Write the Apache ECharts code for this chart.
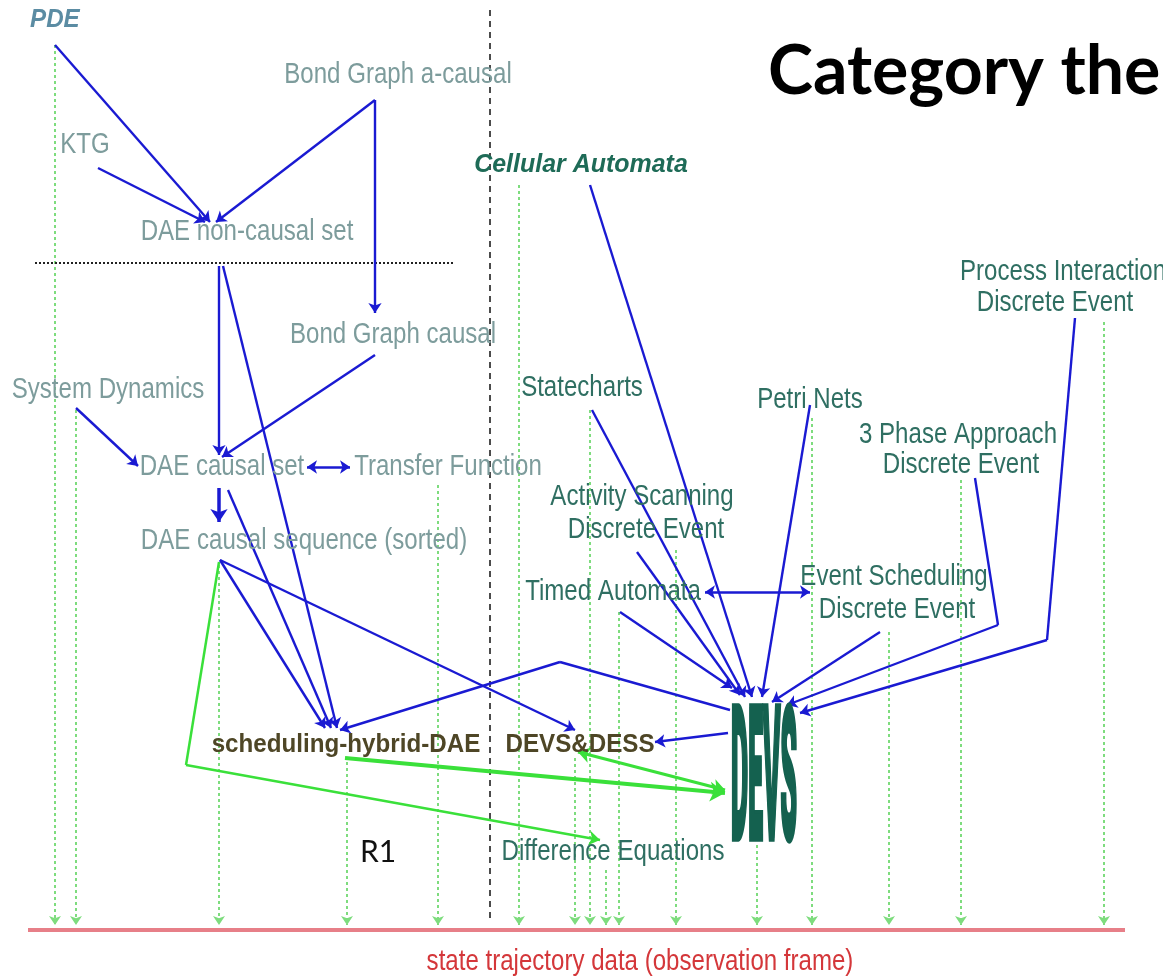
<!DOCTYPE html>
<html><head><meta charset="utf-8">
<script src="https://cdn.jsdelivr.net/npm/echarts@6/dist/echarts.min.js"></script>
<style>html,body{margin:0;padding:0;background:#fff}#c{width:1163px;height:979px}</style>
</head><body><div id="c"></div>
<script>
// ---- node labels (data space == 1163 x 979 frame) ----
const labelTexts = ['PDE','Bond Graph a-causal','KTG','DAE non-causal set','Bond Graph causal','System Dynamics',
  'DAE causal set','Transfer Function','DAE causal sequence (sorted)','Cellular Automata',
  'Process Interaction','Discrete Event','Statecharts','Petri Nets','3 Phase Approach','Discrete Event',
  'Activity Scanning','Discrete Event','Timed Automata','Event Scheduling','Discrete Event',
  'scheduling-hybrid-DAE','DEVS&DESS','Difference Equations','R1','state trajectory data (observation frame)',
  'Category the','DEVS'];
const labelX = [30,398,85,247,393,108,222,448,304,581,960,1055,582,810,958,961,642,646,613,894,897,346,580,613,378,640,768,764];
const labelY = [20,75,145,232,335,390,467,467,541,165,272,303,388,400,435,465,497,530,592,577,610,745,745,852,852,962,72,792];
const labelKind = ['pde','gray','gray','gray','gray','gray','gray','gray','gray','ca',
  'teal','teal','teal','teal','teal','teal','teal','teal','teal','teal','teal',
  'olive','olive','teal','r1','redtext','title','devs'];
const labelAlign = ['left','center','center','center','center','center','center','center','center','center',
  'left','center','center','center','center','center','center','center','center','center','center',
  'center','center','center','center','center','left','center'];

// ---- dotted green projections onto the observation frame ----
const projX   = [55, 76, 219, 347, 438, 519, 575, 590, 606, 619, 676, 757, 812, 889, 961, 1104];
const projTop = [45, 410, 565, 762, 485, 185, 758, 410, 870, 612, 550, 845, 418, 632, 480, 322];
const projBottom = 925;

// ---- blue directed relations (arrow at the end) ----
const blueArrows = [
  [[55,45],[210,222]],
  [[98,168],[205,222]],
  [[375,100],[216,222]],
  [[375,100],[375,313]],
  [[219,266],[219,455]],
  [[223,266],[337,728]],
  [[375,355],[222,457]],
  [[76,408],[138,466]],
  [[228,490],[331,728]],
  [[220,560],[325,728]],
  [[220,560],[575,730]],
  [[730,710],[560,662],[340,730]],
  [[728,733],[655,742]],
  [[590,185],[752,697]],
  [[592,410],[745,697]],
  [[637,552],[740,695]],
  [[620,612],[732,688]],
  [[810,405],[762,697]],
  [[880,632],[772,702]],
  [[975,478],[998,625],[787,705]],
  [[1075,318],[1047,640],[800,713]]
];
const blueThick = [[[219,488],[219,522]]];
const blueDouble = [[[307,467],[350,467]], [[705,592],[810,592]]];

// ---- green relations ----
const greenArrows = [[[219,562],[186,765],[600,840]]];
const greenThick = [[[345,758],[725,793]]];
const greenDouble = [[[578,752],[725,790]]];

// ---- frame lines ----
const redFrame = [[[28,930],[1125,930]]];
const dashedDivider = [[[490,10],[490,918]]];
const dottedDivider = [[[35,263],[455,263]]];

const STY = {
  gray:   {color:'#7d9c9c', size:29, weight:'normal', style:'normal', family:'Liberation Sans, Arial, sans-serif', sx:0.83, sy:1},
  teal:   {color:'#2f6f62', size:29, weight:'normal', style:'normal', family:'Liberation Sans, Arial, sans-serif', sx:0.83, sy:1},
  olive:  {color:'#4e4626', size:26, weight:'bold', style:'normal', family:'Liberation Sans, Arial, sans-serif', sx:0.93, sy:1},
  pde:    {color:'#5b8ca3', size:26, weight:'bold', style:'italic', family:'Liberation Sans, Arial, sans-serif', sx:0.93, sy:1},
  ca:     {color:'#1e6b57', size:26, weight:'bold', style:'italic', family:'Liberation Sans, Arial, sans-serif', sx:0.96, sy:1},
  r1:     {color:'#111111', size:30, weight:'normal', style:'normal', family:'Lato, Open Sans, sans-serif', sx:1, sy:1},
  redtext:{color:'#d4373a', size:29, weight:'normal', style:'normal', family:'Liberation Sans, Arial, sans-serif', sx:0.83, sy:1},
  title:  {color:'#000000', size:68, weight:'bold', style:'normal', family:'Lato, Open Sans, sans-serif', sx:1, sy:1},
  devs:   {color:'#14614f', size:40, weight:'900', style:'normal', family:'Roboto, Liberation Sans, sans-serif', sx:0.66, sy:4.6, stroke:1.6}
};

// split paths: all segments but the last carry no head, the last carries the head(s)
function bodySegs(list){ const out=[]; list.forEach(p => { for(let k=0;k<p.length-2;k++) out.push({coords:[p[k],p[k+1]]}); }); return out; }
function headSegs(list){ return list.map(p => ({coords:[p[p.length-2], p[p.length-1]]})); }
function seg(data, color, width, type, symbol, symSize, z){
  return {type:'lines', coordinateSystem:'cartesian2d', polyline:false, z:z,
    data: data, symbol: symbol, symbolSize: symSize,
    lineStyle:{color:color, width:width, type:type, opacity:1, curveness:0}, silent:true, animation:false};
}
function arrowSeries(list, color, width, symbol, symSize, z){
  return [seg(bodySegs(list), color, width, 'solid', ['none','none'], 1, z),
          seg(headSegs(list), color, width, 'solid', symbol, symSize, z)];
}

const projList = projX.map((x,i) => ({coords:[[x, projTop[i]], [x, projBottom]]}));

const chart = echarts.init(document.getElementById('c'), null, {renderer:'canvas'});
chart.setOption({
  backgroundColor:'#ffffff',
  animation:false,
  grid:{left:0,right:0,top:0,bottom:0},
  xAxis:{type:'value', min:0, max:1163, show:false},
  yAxis:{type:'value', min:0, max:979, inverse:true, show:false},
  series:[].concat(
    [seg(projList, '#7edc7e', 2, [3,3], ['none','arrow'], 9, 1),
     seg(headSegs(redFrame), '#e77f88', 4, 'solid', ['none','none'], 1, 2),
     seg(headSegs(dashedDivider), '#111111', 1.5, [6,5], ['none','none'], 1, 2),
     seg(headSegs(dottedDivider), '#222222', 2, [2,2], ['none','none'], 1, 2)],
    arrowSeries(greenArrows, '#3ae03a', 2.5, ['none','arrow'], 11, 3),
    arrowSeries(greenThick, '#3ae03a', 4, ['none','arrow'], 15, 3),
    arrowSeries(greenDouble, '#3ae03a', 3, ['arrow','arrow'], 12, 3),
    arrowSeries(blueArrows, '#1a1ad2', 2.4, ['none','arrow'], 10, 4),
    arrowSeries(blueThick, '#1a1ad2', 3.5, ['none','arrow'], 13, 4),
    arrowSeries(blueDouble, '#1a1ad2', 2.6, ['arrow','arrow'], 10, 4),
    [{
      type:'custom', coordinateSystem:'cartesian2d', z:10, silent:true, animation:false,
      data: labelTexts.map((t,i) => [labelX[i], labelY[i], i]),
      renderItem: function(params, api){
        const i = api.value(2);
        const p = api.coord([api.value(0), api.value(1)]);
        const s = STY[labelKind[i]];
        const st = {
          text: labelTexts[i], fill: s.color,
          font: s.style + ' ' + s.weight + ' ' + s.size + 'px ' + s.family,
          align: labelAlign[i], verticalAlign:'middle',
          textAlign: labelAlign[i], textVerticalAlign:'middle'
        };
        if (s.stroke) { st.stroke = s.color; st.lineWidth = s.stroke; }
        return { type:'text', x:p[0], y:p[1], scaleX:s.sx, scaleY:s.sy, style: st };
      }
    }]
  )
});
</script></body></html>
